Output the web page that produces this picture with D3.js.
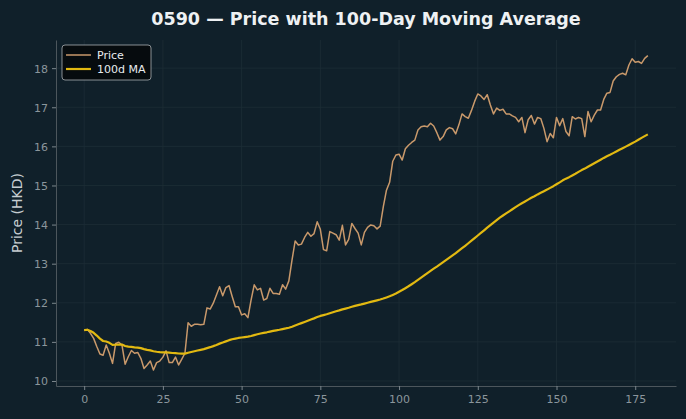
<!DOCTYPE html>
<html>
<head>
<meta charset="utf-8">
<script src="https://cdn.jsdelivr.net/npm/d3@7"></script>
<style>
  html, body { margin: 0; padding: 0; background: #10202a; }
  svg { display: block; font-family: "DejaVu Sans", sans-serif; }
</style>
</head>
<body>
<div id="container"></div>
<script>
const title = "0590 \u2014 Price with 100-Day Moving Average";
const yLabel = "Price (HKD)";
const xTicks = [0, 25, 50, 75, 100, 125, 150, 175];
const yTicks = [10, 11, 12, 13, 14, 15, 16, 17, 18];
const maWindow = 100;

// daily closing price
const price = [
  11.30, 11.32, 11.22, 11.09, 10.88, 10.69, 10.66, 10.92, 10.71, 10.45,
  10.96, 10.99, 10.92, 10.43, 10.62, 10.78, 10.71, 10.73, 10.58, 10.32,
  10.41, 10.51, 10.28, 10.47, 10.51, 10.61, 10.77, 10.47, 10.47, 10.61,
  10.41, 10.56, 10.71, 11.49, 11.40, 11.45, 11.45, 11.44, 11.45, 11.87,
  11.84, 11.99, 12.20, 12.41, 12.18, 12.39, 12.44, 12.16, 11.90, 11.90,
  11.69, 11.72, 11.62, 12.07, 12.46, 12.33, 12.37, 12.07, 12.11, 12.37,
  12.24, 12.24, 12.22, 12.46, 12.35, 12.56, 13.09, 13.58, 13.48, 13.50,
  13.67, 13.80, 13.70, 13.77, 14.07, 13.88, 13.36, 13.33, 13.82, 13.78,
  13.74, 13.60, 13.98, 13.48, 13.62, 14.03, 13.90, 13.78, 13.48, 13.80,
  13.93, 13.99, 13.97, 13.89, 13.96, 14.46, 14.88, 15.08, 15.62, 15.78,
  15.80, 15.65, 15.94, 16.03, 16.10, 16.16, 16.42, 16.50, 16.52, 16.50,
  16.59, 16.52, 16.35, 16.16, 16.25, 16.42, 16.48, 16.45, 16.32, 16.55,
  16.83, 16.76, 16.72, 16.92, 17.15, 17.34, 17.29, 17.20, 17.32, 17.06,
  16.83, 16.98, 16.92, 16.95, 16.83, 16.83, 16.78, 16.74, 16.63, 16.74,
  16.35, 16.68, 16.79, 16.57, 16.74, 16.71, 16.46, 16.12, 16.33, 16.22,
  16.74, 16.53, 16.71, 16.38, 16.27, 16.76, 16.70, 16.74, 16.71, 16.25,
  16.89, 16.63, 16.80, 16.93, 16.93, 17.20, 17.36, 17.38, 17.67, 17.78,
  17.84, 17.87, 17.83, 18.08, 18.24, 18.15, 18.17, 18.12, 18.25, 18.32
];

// rolling mean, min_periods = 1
const ma = price.map((d, i) => d3.mean(price.slice(Math.max(0, i - maWindow + 1), i + 1)));

const w = 686, h = 419;
const margin = {top: 40, right: 10, bottom: 33, left: 56};

const x = d3.scaleLinear()
    .domain([-8.95, 187.95])
    .range([margin.left, w - margin.right]);
const y = d3.scaleLinear()
    .domain([9.872, 18.72])
    .range([h - margin.bottom, margin.top]);

const svg = d3.select("#container").append("svg")
    .attr("width", w)
    .attr("height", h);

svg.append("rect").attr("width", w).attr("height", h).attr("fill", "#10202a");

// grid
svg.append("g").selectAll("line").data(xTicks).enter().append("line")
    .attr("x1", d => x(d)).attr("x2", d => x(d))
    .attr("y1", margin.top).attr("y2", h - margin.bottom)
    .attr("stroke", "#1d2d36").attr("stroke-width", 0.8);
svg.append("g").selectAll("line").data(yTicks).enter().append("line")
    .attr("x1", margin.left).attr("x2", w - margin.right)
    .attr("y1", d => y(d)).attr("y2", d => y(d))
    .attr("stroke", "#1d2d36").attr("stroke-width", 0.8);

// axes
const xAxis = svg.append("g")
    .attr("transform", "translate(0," + (h - margin.bottom) + ")")
    .call(d3.axisBottom(x).tickValues(xTicks).tickSize(4).tickPadding(5).tickSizeOuter(0));
const yAxis = svg.append("g")
    .attr("transform", "translate(" + margin.left + ",0)")
    .call(d3.axisLeft(y).tickValues(yTicks).tickSize(4).tickPadding(4).tickSizeOuter(0));

[xAxis, yAxis].forEach(g => {
    g.select(".domain").attr("stroke", "#4c565c");
    g.selectAll(".tick line").attr("stroke", "#7b868c");
    g.selectAll(".tick text")
        .attr("fill", "#8b969c")
        .style("font-size", "11px")
        .style("font-family", "DejaVu Sans");
});
yAxis.selectAll(".tick text").attr("dy", "0.35em");

svg.append("text")
    .attr("transform", "translate(22," + ((margin.top + h - margin.bottom) / 2) + ") rotate(-90)")
    .attr("text-anchor", "middle")
    .attr("fill", "#c6cdd1")
    .style("font-size", "14px")
    .text(yLabel);

svg.append("text")
    .attr("x", (margin.left + w - margin.right) / 2)
    .attr("y", 25)
    .attr("text-anchor", "middle")
    .attr("fill", "#eef1f3")
    .style("font-size", "17.5px")
    .style("font-weight", "bold")
    .text(title);

// lines
const line = d3.line().x((d, i) => x(i)).y(d => y(d));
svg.append("path")
    .datum(price)
    .attr("d", line)
    .attr("fill", "none")
    .attr("stroke", "#c9996b")
    .attr("stroke-width", 1.5)
    .attr("stroke-linejoin", "round");
svg.append("path")
    .datum(ma)
    .attr("d", line)
    .attr("fill", "none")
    .attr("stroke", "#e2b911")
    .attr("stroke-width", 2.2)
    .attr("stroke-linejoin", "round");

// legend
const legend = svg.append("g").attr("transform", "translate(62,45)");
legend.append("rect")
    .attr("width", 89).attr("height", 35).attr("rx", 3)
    .attr("fill", "#05090b").attr("fill-opacity", 0.9)
    .attr("stroke", "#a9afb2").attr("stroke-width", 0.8);
const items = [["Price", "#c9996b", 1.5], ["100d MA", "#e2b911", 2.2]];
items.forEach((it, i) => {
    const yy = 10 + i * 14;
    legend.append("line")
        .attr("x1", 4).attr("x2", 29).attr("y1", yy).attr("y2", yy)
        .attr("stroke", it[1]).attr("stroke-width", it[2]);
    legend.append("text")
        .attr("x", 35).attr("y", yy).attr("dy", "0.35em")
        .attr("fill", "#e8ecee")
        .style("font-size", "11px")
        .text(it[0]);
});
</script>
</body>
</html>
